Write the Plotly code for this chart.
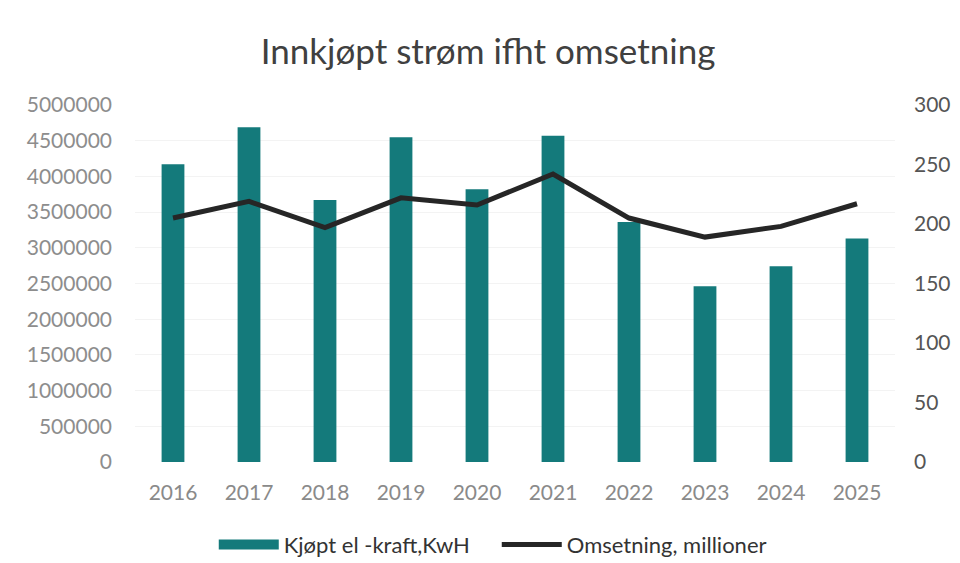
import plotly.graph_objects as go

years = ["2016", "2017", "2018", "2019", "2020", "2021", "2022", "2023", "2024", "2025"]
kjopt_kwh = [4170000, 4690000, 3670000, 4550000, 3820000, 4570000, 3360000, 2460000, 2740000, 3130000]
omsetning = [205, 219, 197, 222, 216, 242, 205, 189, 198, 217]

left_ticks = [0, 500000, 1000000, 1500000, 2000000, 2500000, 3000000, 3500000, 4000000, 4500000, 5000000]
right_ticks = [0, 50, 100, 150, 200, 250, 300]

bar_color = "#147a7b"
line_color = "#262626"

fig = go.Figure()

fig.add_trace(go.Bar(
    x=years,
    y=kjopt_kwh,
    name="Kjøpt el -kraft,KwH",
    marker=dict(color=bar_color, line=dict(width=0)),
    yaxis="y",
    showlegend=False,
))

fig.add_trace(go.Scatter(
    x=years,
    y=omsetning,
    name="Omsetning, millioner",
    mode="lines",
    line=dict(color=line_color, width=5),
    yaxis="y2",
    showlegend=False,
))

# legend entries (wide swatch like the original)
fig.add_trace(go.Scatter(
    x=[None], y=[None], name="Kjøpt el -kraft,KwH", mode="lines",
    line=dict(color=bar_color, width=12),
))
fig.add_trace(go.Scatter(
    x=[None], y=[None], name="Omsetning, millioner", mode="lines",
    line=dict(color=line_color, width=5), yaxis="y2",
))

fig.update_layout(
    width=960,
    height=563,
    paper_bgcolor="white",
    plot_bgcolor="white",
    font=dict(family="Lato", size=18, color="#8a8a8a"),
    margin=dict(l=127, r=73, t=97, b=109, autoexpand=False),
    bargap=0.7,
    title=dict(
        text="Innkjøpt strøm ifht omsetning",
        x=0.5,
        xanchor="center",
        y=0.922,
        yanchor="middle",
        font=dict(size=35, color="#404040", family="Lato"),
    ),
    xaxis=dict(
        showgrid=False,
        showline=False,
        ticks="",
        ticklabelstandoff=16,
        automargin=False,
        tickfont=dict(size=21, color="#8a8a8a"),
    ),
    yaxis=dict(
        range=[0, 5000000],
        tickvals=left_ticks,
        ticktext=[str(v) for v in left_ticks],
        showgrid=True,
        gridcolor="#f3f3f3",
        zeroline=False,
        automargin=False,
        ticklabelstandoff=22,
        tickfont=dict(size=21, color="#8d8d8d"),
    ),
    yaxis2=dict(
        range=[0, 300],
        tickvals=right_ticks,
        overlaying="y",
        side="right",
        showgrid=False,
        zeroline=False,
        automargin=False,
        ticklabelstandoff=18,
        tickfont=dict(size=21, color="#555555"),
    ),
    legend=dict(
        orientation="h",
        x=0.476,
        xanchor="center",
        y=-0.232,
        yanchor="middle",
        font=dict(size=22, color="#333333"),
        itemwidth=60,
        entrywidth=208,
        entrywidthmode="pixels",
        tracegroupgap=0,
    ),
)

fig.write_html("out.html")
